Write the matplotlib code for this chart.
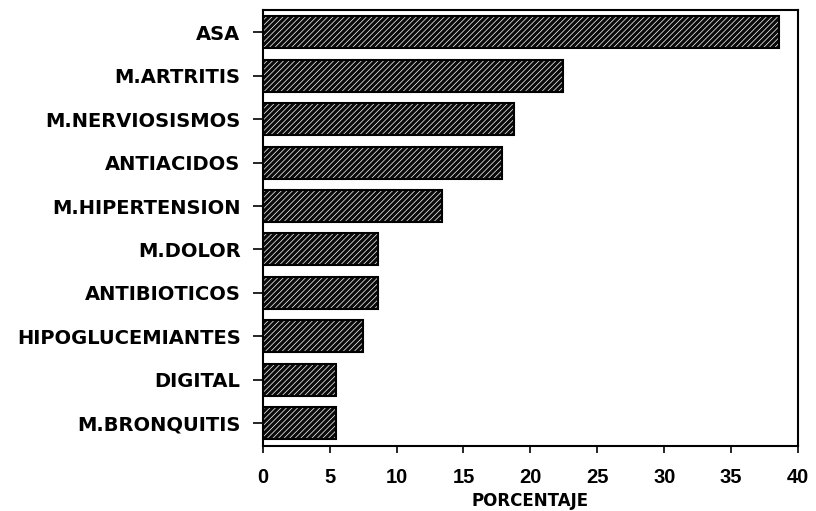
import matplotlib.pyplot as plt

# data (top to bottom)
labels = ["ASA", "M.ARTRITIS", "M.NERVIOSISMOS", "ANTIACIDOS", "M.HIPERTENSION",
          "M.DOLOR", "ANTIBIOTICOS", "HIPOGLUCEMIANTES", "DIGITAL", "M.BRONQUITIS"]
values = [38.6, 22.4, 18.8, 17.9, 13.4, 8.6, 8.6, 7.5, 5.5, 5.5]
xticks = [0, 5, 10, 15, 20, 25, 30, 35, 40]

plt.rcParams['font.family'] = ['DejaVu Sans']
plt.rcParams['hatch.linewidth'] = 0.5

fig = plt.figure(figsize=(8.16, 5.11), dpi=100)
ax = fig.add_axes([0.322, 0.127, 0.656, 0.853])

pos = list(range(len(labels)))
# black fill with fine white diagonal hatch, then black outline on top
ax.barh(pos, values, height=0.74, color="#0a0a0a", edgecolor="white",
        hatch="//////", linewidth=0)
ax.barh(pos, values, height=0.74, fill=False, edgecolor="black", linewidth=1.5)

ax.set_ylim(9.53, -0.51)
ax.set_xlim(0, 40)
ax.set_xticks(xticks)
ax.set_xticklabels([str(t) for t in xticks], fontsize=14.5, fontweight="bold",
                   family="Liberation Sans")
ax.set_yticks(pos)
ax.set_yticklabels(labels, fontsize=14, fontweight="bold")
ax.tick_params(axis="x", direction="out", length=5, width=1.2, pad=11)
ax.tick_params(axis="y", direction="out", length=7, width=1.2, pad=9)
for s in ax.spines.values():
    s.set_linewidth(1.5)

ax.set_xlabel("PORCENTAJE", fontsize=12, fontweight="bold", labelpad=3.5)

fig.savefig("out.png", dpi=100)
